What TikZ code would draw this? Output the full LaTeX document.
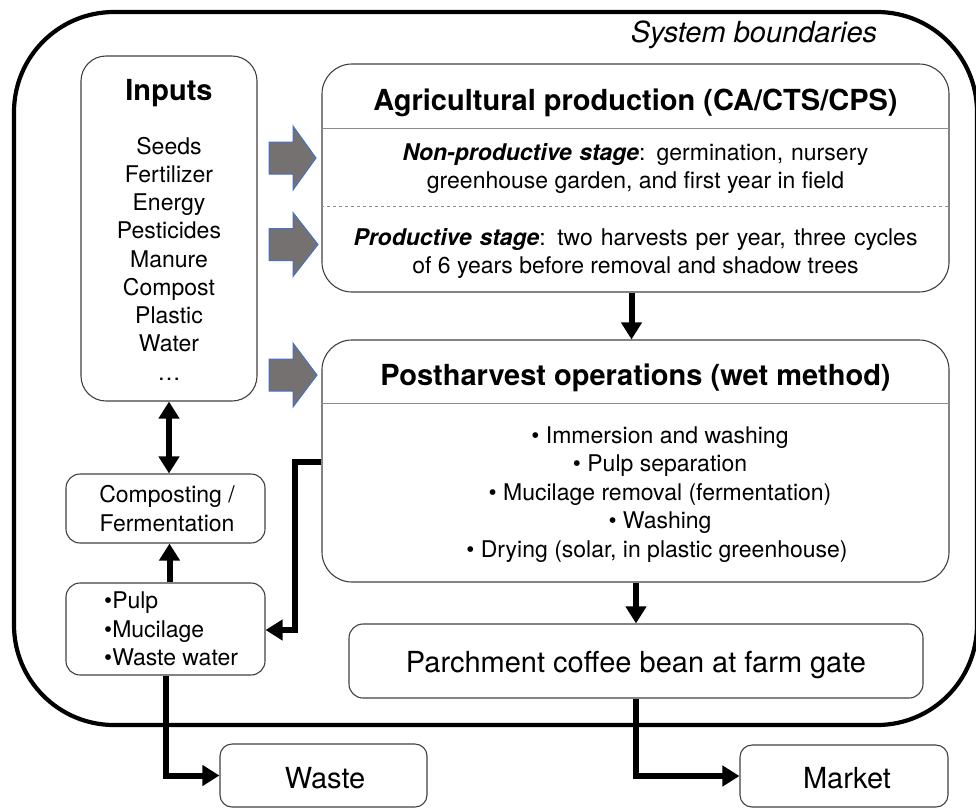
\documentclass[tikz,border=0pt]{standalone}
\usepackage{fontspec}
\setmainfont{TeX Gyre Heros}
\usetikzlibrary{arrows.meta}
\definecolor{boxline}{gray}{0.25}
\definecolor{sepline}{gray}{0.55}
\definecolor{blockfill}{RGB}{118,113,113}
\definecolor{blockedge}{RGB}{68,114,196}
\tikzset{
  box/.style={draw=boxline, line width=1.1pt, rounded corners=#1, inner sep=0pt},
  conn/.style={line width=6pt, -{Triangle[length=17pt,width=20pt]}},
  dconn/.style={line width=6pt, {Triangle[length=17pt,width=20pt]}-{Triangle[length=17pt,width=20pt]}},
  block/.style={fill=blockfill, draw=blockedge, line width=1pt},
  big/.style={font=\fontsize{29}{34}\selectfont, anchor=base, inner sep=0pt},
  small/.style={font=\fontsize{23}{28}\selectfont, anchor=base, inner sep=0pt},
  sep/.style={draw=sepline, line width=0.8pt},
}
\begin{document}
\begin{tikzpicture}[x=1pt,y=-1pt]
\useasboundingbox (0,0) rectangle (976,809);
% system boundary
\draw[line width=4.2pt, rounded corners=100pt] (14,12) rectangle (977,725);
\node[big, font=\fontsize{29}{34}\selectfont\itshape] (sysb) at (754,42) {System boundaries};

% boxes
\node[box=25pt, minimum width=176pt, minimum height=345pt] (inputs) at (169,228.5) {};
\node[box=30pt, minimum width=627pt, minimum height=228pt] (agri) at (635.5,178) {};
\node[box=30pt, minimum width=627pt, minimum height=242pt] (post) at (635.5,461) {};
\node[box=14pt, minimum width=574pt, minimum height=74pt] (parch) at (636,661) {};
\node[box=14pt, minimum width=199pt, minimum height=69pt] (comp) at (165.5,508.5) {};
\node[box=14pt, minimum width=199pt, minimum height=92pt] (pulp) at (165.5,629) {};
\node[box=12pt, minimum width=207pt, minimum height=63pt] (waste) at (323.5,775.5) {};
\node[box=12pt, minimum width=208pt, minimum height=62pt] (market) at (844,776) {};

% separators
\draw[sep] (agri.west |- 0,128) -- (agri.east |- 0,128);
\draw[sep, dashed] (agri.west |- 0,206) -- (agri.east |- 0,206);
\draw[sep] (post.west |- 0,403) -- (post.east |- 0,403);

% inputs text
\node[big, font=\fontsize{29}{34}\selectfont\bfseries] (inT) at (169,100) {Inputs};
\foreach \t [count=\i] in {Seeds,Fertilizer,Energy,Pesticides,Manure,Compost,Plastic,Water,\dots}
  \node[small] (in\i) at (169,{154+28.25*(\i-1)}) {\t};

% agricultural production text
\node[big, font=\fontsize{29}{34}\selectfont\bfseries] (agT) at (635.5,110) {Agricultural production (CA/CTS/CPS)};
\node[small] (np1) at (635.5,160) {\makebox[466pt][s]{\textbf{\textit{Non-productive stage}}: germination, nursery}};
\node[small] (np2) at (635.5,188) {greenhouse garden, and first year in field};
\node[small] (pr1) at (635.5,245) {\makebox[564pt][s]{\textbf{\textit{Productive stage}}: two harvests per year, three cycles}};
\node[small] (pr2) at (635.5,273) {of 6 years before removal and shadow trees};

% postharvest text
\node[big, font=\fontsize{29}{34}\selectfont\bfseries] (poT) at (635.5,385) {Postharvest operations (wet method)};
\node[small] (po1) at (660,443) {• Immersion and washing};
\node[small] (po2) at (660,471.5) {• Pulp separation};
\node[small] (po3) at (660,500) {• Mucilage removal (fermentation)};
\node[small] (po4) at (660,528.5) {• Washing};
\node[small] (po5) at (657,557) {• Drying (solar, in plastic greenhouse)};

% other texts
\node[big, font=\fontsize{29}{34}\selectfont] (paT) at (636,672) {Parchment coffee bean at farm gate};
\node[big, font=\fontsize{29}{34}\selectfont] (waT) at (325,788) {Waste};
\node[big, font=\fontsize{29}{34}\selectfont] (maT) at (847,788) {Market};
\node[small] (co1) at (167,502) {Composting /};
\node[small] (co2) at (167,531) {Fermentation};
\node[small, anchor=base west] (pu1) at (104,608) {•Pulp};
\node[small, anchor=base west] (pu2) at (104,637) {•Mucilage};
\node[small, anchor=base west] (pu3) at (104,665) {•Waste water};

% block arrows
\foreach \yc/\tx in {158/316, 244.5/318, 375/317}
  \draw[block] (269,\yc-16) -- (293,\yc-16) -- (293,\yc-32) -- (\tx,\yc) -- (293,\yc+32) -- (293,\yc+16) -- (269,\yc+16) -- cycle;

% connectors
\draw[conn] ([xshift=-4pt]agri.south) -- ([xshift=-4pt]agri.south |- post.north);
\draw[conn] (parch.north |- post.south) -- (parch.north);
\draw[conn] (parch.south) |- (market.west);
\draw[conn] (pulp.south) |- (waste.west);
\draw[conn] ([xshift=4pt]pulp.north) -- ([xshift=4pt]comp.south);
\draw[dconn] (inputs.south) -- (inputs.south |- comp.north);
\coordinate (k1) at (295,462);
\coordinate (k2) at (295,630);
\draw[conn] (k1 -| post.west) -- (k1) -- (k2) -- (k2 -| pulp.east);
\end{tikzpicture}
\end{document}
